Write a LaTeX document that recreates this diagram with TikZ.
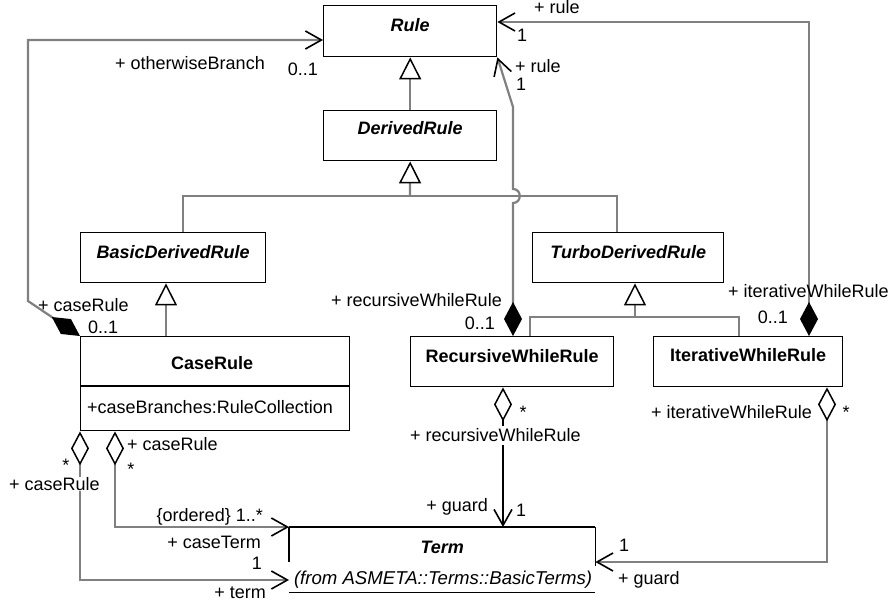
\documentclass[tikz,border=0pt]{standalone}
\usepackage{fontspec}
\setmainfont{Liberation Sans}
\usetikzlibrary{arrows.meta,calc}
\definecolor{wire}{RGB}{128,128,128}
\tikzset{
  navtip/.tip={Straight Barb[length=16pt,width=18pt,line width=1.6pt,color=black]},
  gentip/.tip={Triangle[length=22pt,width=22pt,line width=1.5pt,color=black,fill=white]},
  comptip/.tip={Diamond[length=34pt,width=18pt,color=black]},
  aggtip/.tip={Diamond[length=34pt,width=18pt,line width=1.5pt,color=black,fill=white]},
  cls/.style={draw=black,line width=1.4pt,rectangle,inner sep=0pt,anchor=north west},
  lbl/.style={font=\fontsize{18}{20}\selectfont,inner sep=0pt,text height=13pt,text depth=0pt},
  star/.style={lbl,anchor=north},
  clsname/.style={lbl,font=\fontsize{18}{20}\selectfont\bfseries},
  abstname/.style={lbl,font=\fontsize{18}{20}\selectfont\bfseries\itshape},
  link/.style={draw=wire,line width=2.2pt},
  blackwire/.style={draw=black,line width=1.3pt},
  edge/.style={draw=black,line width=1.4pt},
}
\begin{document}
\begin{tikzpicture}[x=1pt,y=-1pt]
\useasboundingbox (0,0) rectangle (896,603);

% class boxes
\node[cls,minimum width=173pt,minimum height=51pt] (rule) at (323,5) {};
\node[cls,minimum width=173pt,minimum height=50pt] (derived) at (323,110) {};
\node[cls,minimum width=185pt,minimum height=50pt] (basic) at (80,232) {};
\node[cls,minimum width=191pt,minimum height=50pt] (turbo) at (532,232) {};
\node[cls,minimum width=269pt,minimum height=94pt] (caserule) at (80,336) {};
\node[cls,minimum width=203pt,minimum height=50pt] (recur) at (410,336) {};
\node[cls,minimum width=189pt,minimum height=50pt] (iter) at (653,336) {};
\node[anchor=north west,inner sep=0pt,minimum width=306pt,minimum height=65pt] (term) at (289,527) {};

% class names
\node[abstname] (ruleN) at ($(rule.north)+(0,20)$) {Rule};
\node[abstname] (derivedN) at ($(derived.north)+(0,18)$) {DerivedRule};
\node[abstname] (basicN) at ($(basic.north)+(0,20)$) {BasicDerivedRule};
\node[abstname] (turboN) at ($(turbo.north)+(0,20)$) {TurboDerivedRule};
\node[clsname] (caseN) at ($(caserule.north)+(-3,27)$) {CaseRule};
\node[clsname] (recurN) at ($(recur.north)+(0,20)$) {RecursiveWhileRule};
\node[clsname] (iterN) at ($(iter.north)+(0,19)$) {IterativeWhileRule};
\node[abstname] (termN) at ($(term.north)+(0,20)$) {Term};

% CaseRule attribute compartment
\draw[edge] (caserule.west |- 0,386) -- (caserule.east |- 0,386);
\node[lbl,anchor=west] (caseAttr) at (87,407) {+caseBranches:RuleCollection};

% Term box (partly hidden by its package note)
\draw[edge] (term.north west) -- (term.north east);
\draw[edge] (term.north west) -- ++(0,35);
\draw[edge] (term.north east) -- ++(0,39);
\draw[edge] (term.south west) -- (term.south east);
\node[lbl,font=\fontsize{18.6}{20}\selectfont\itshape] (termFrom) at (443,578) {(from ASMETA::Terms::BasicTerms)};

% generalizations
\coordinate (hub) at (410,196);
\coordinate (thub) at (635,317);
\draw[link,arrows=-gentip] (derived.north) -- (rule.south);
\draw[link] (basic.north -| 183,0) |- (hub);
\draw[link] (turbo.north -| 617,0) |- (hub);
\draw[link,arrows=-gentip] (hub) -- (derived.south);
\draw[link,arrows=-gentip] (caserule.north -| 166,0) -- (basic.south -| 166,0);
\draw[link] (recur.north -| 530,0) |- (thub);
\draw[link] (iter.north -| 739,0) |- (thub);
\draw[link,arrows=-gentip] (thub) -- (turbo.south -| thub);

% compositions towards Rule
\draw[link,arrows=comptip-navtip] (iter.north -| 809,0) -- (809,22) -- (rule.east |- 0,22);
\draw[link,arrows=comptip-navtip] (recur.north -| 513,0) -- (513,203)
  .. controls (522,203) and (522,189) .. (513,189) -- (513,107) -- (rule.south east);
\draw[link,arrows=comptip-navtip] (caserule.north west) -- (28,301) -- (28,40) -- (rule.west |- 0,40);

% aggregations towards Term
\draw[link,arrows=aggtip-navtip] (caserule.south west) -- (80,580) -- (term.west |- 0,580);
\draw[link,arrows=aggtip-navtip] (caserule.south -| 115,0) -- (115,527) -- (term.north west);
\draw[blackwire,arrows=aggtip-navtip] (recur.south -| 503,0) -- (term.north -| 503,0);
\draw[link,arrows=aggtip-navtip] (iter.south -| 827,0) -- (827,562) -- (term.east |- 0,562);

% role names and multiplicities
\node[lbl,anchor=east] (l1) at (265,63) {+ otherwiseBranch};
\node[lbl,anchor=east] (l2) at (318,69) {0..1};
\node[lbl,anchor=west] (l3) at (534,7) {+ rule};
\node[lbl,anchor=west] (l4) at (517,35) {1};
\node[lbl,anchor=west] (l5) at (515,66) {+ rule};
\node[lbl,anchor=west] (l6) at (516,84) {1};
\node[lbl,anchor=west] (l7) at (38,305) {+ caseRule};
\node[lbl,anchor=west] (l8) at (88,327) {0..1};
\node[lbl,anchor=east] (l9) at (502,300) {+ recursiveWhileRule};
\node[lbl,anchor=east] (l10) at (495,323) {0..1};
\node[lbl,anchor=west] (l11) at (728,291) {+ iterativeWhileRule};
\node[lbl,anchor=east] (l12) at (788,317) {0..1};
\node[star] (l13) at (66,458) {*};
\node[lbl,anchor=west,fill=white,inner ysep=0.5pt] (l14) at (9,484) {+ caseRule};
\node[lbl,anchor=west] (l15) at (127,444) {+ caseRule};
\node[star] (l16) at (131,462) {*};
\node[lbl,anchor=east] (l17) at (263,515) {\{ordered\} 1..*};
\node[lbl,anchor=east] (l18) at (261,542) {+ caseTerm};
\node[lbl,anchor=east] (l19) at (262,563) {1};
\node[lbl,anchor=east] (l20) at (266,592) {+ term};
\node[star] (l21) at (523,405) {*};
\node[lbl,anchor=west,fill=white,inner ysep=3pt] (l22) at (410,435) {+ recursiveWhileRule};
\node[lbl,anchor=east] (l23) at (488,505) {+ guard};
\node[lbl,anchor=west] (l24) at (516,510) {1};
\node[lbl,anchor=east] (l25) at (812,412) {+ iterativeWhileRule};
\node[star] (l26) at (846,405) {*};
\node[lbl,anchor=west] (l27) at (619,545) {1};
\node[lbl,anchor=west] (l28) at (618,578) {+ guard};
\end{tikzpicture}
\end{document}
